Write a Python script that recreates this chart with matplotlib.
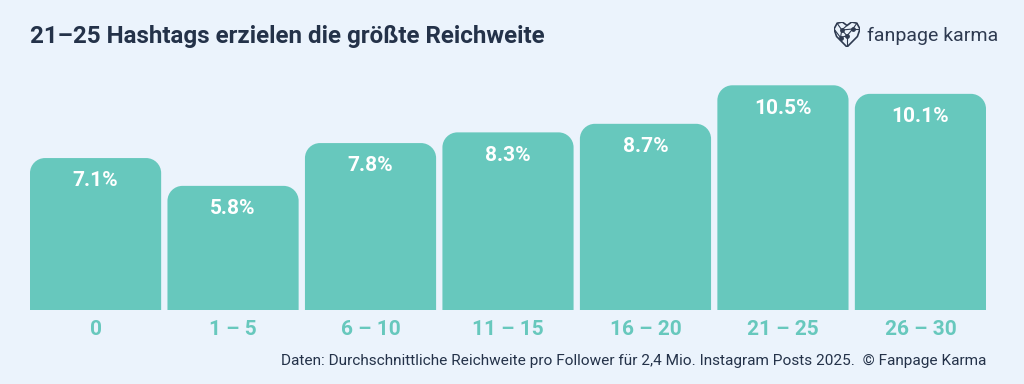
import matplotlib.pyplot as plt
from matplotlib.patches import PathPatch
from matplotlib.path import Path

plt.rcParams['font.family'] = ['Roboto', 'DejaVu Sans']

categories = ['0', '1 – 5', '6 – 10', '11 – 15', '16 – 20', '21 – 25', '26 – 30']
values = [7.1, 5.8, 7.8, 8.3, 8.7, 10.5, 10.1]
labels = ['7.1%', '5.8%', '7.8%', '8.3%', '8.7%', '10.5%', '10.1%']

bg = '#EBF3FC'
teal = '#67C8BD'
navy = '#243249'

fig = plt.figure(figsize=(10.24, 3.84), dpi=100, facecolor=bg)
ax = fig.add_axes([30/1024, 74/384, 956/1024, 235.4/384])
ax.set_facecolor(bg)
ax.set_xlim(-0.477, 6.477)
ax.set_ylim(0, 11)

bars = ax.bar(range(len(values)), values, width=0.954, color=teal)


def top_rounded(x, w, h, rx, ry):
    k = 0.5523
    verts = [(x, 0), (x, h - ry),
             (x, h - ry + k * ry), (x + rx - k * rx, h), (x + rx, h),
             (x + w - rx, h),
             (x + w - rx + k * rx, h), (x + w, h - ry + k * ry), (x + w, h - ry),
             (x + w, 0), (x, 0)]
    codes = [Path.MOVETO, Path.LINETO,
             Path.CURVE4, Path.CURVE4, Path.CURVE4,
             Path.LINETO,
             Path.CURVE4, Path.CURVE4, Path.CURVE4,
             Path.LINETO, Path.CLOSEPOLY]
    return Path(verts, codes)


# rounded top corners, radius ~15px
rx = 15 / 137.5
ry = 15 / 21.4
for b in bars:
    b.set_visible(False)
    ax.add_patch(PathPatch(top_rounded(b.get_x(), b.get_width(), b.get_height(), rx, ry),
                           fc=teal, ec='none'))

for i, (v, lab) in enumerate(zip(values, labels)):
    ax.annotate(lab, (i, v), xytext=(0, -16.5), textcoords='offset points',
                ha='center', va='center', color='white', fontsize=15,
                fontweight='semibold')

ax.set_xticks(range(len(categories)))
ax.set_xticklabels(categories, color=teal, fontsize=15, fontweight='bold')
ax.tick_params(axis='x', length=0, pad=7)
ax.set_yticks([])
for s in ax.spines.values():
    s.set_visible(False)

fig.text(30/1024, 1 - 36/384, '21–25 Hashtags erzielen die größte Reichweite',
         ha='left', va='center', fontsize=17.4, fontweight='bold', color=navy)
fig.text(998/1024, 1 - 36/384, 'fanpage karma', ha='right', va='center',
         fontsize=14, color='#2E3A50')

# small heart logo made of lines
hx = fig.add_axes([834/1024, 1 - 47/384, 26/1024, 25/384])
hx.set_xlim(0, 1)
hx.set_ylim(0, 1)
hx.axis('off')
outline = [(0.5, 0), (0.1, 0.42), (0, 0.72), (0.12, 0.95), (0.32, 1.0), (0.5, 0.86),
           (0.68, 1.0), (0.88, 0.95), (1, 0.72), (0.9, 0.42), (0.5, 0)]
hx.plot([p[0] for p in outline], [p[1] for p in outline], color='#2E3A50', lw=1.2)
nodes = [(0.3, 0.68), (0.72, 0.72), (0.5, 0.45), (0.25, 0.38)]
edges = [(0, 1), (0, 2), (1, 2), (0, 3), (2, 3)]
for a, c in edges:
    hx.plot([nodes[a][0], nodes[c][0]], [nodes[a][1], nodes[c][1]], color='#2E3A50', lw=0.8)
links = [((0.3, 0.68), (0.12, 0.95)), ((0.3, 0.68), (0.5, 0.86)), ((0.72, 0.72), (0.88, 0.95)),
         ((0.72, 0.72), (1, 0.72)), ((0.5, 0.45), (0.5, 0)), ((0.25, 0.38), (0, 0.72))]
for p, q in links:
    hx.plot([p[0], q[0]], [p[1], q[1]], color='#2E3A50', lw=0.8)
hx.scatter([n[0] for n in nodes], [n[1] for n in nodes], s=6, color='#2E3A50', zorder=3)

fig.text(986/1024, 1 - 361/384,
         'Daten: Durchschnittliche Reichweite pro Follower für 2,4 Mio. Instagram Posts 2025.  © Fanpage Karma',
         ha='right', va='center', fontsize=11.1, color=navy)

fig.savefig('out.png', dpi=100, facecolor=bg)
